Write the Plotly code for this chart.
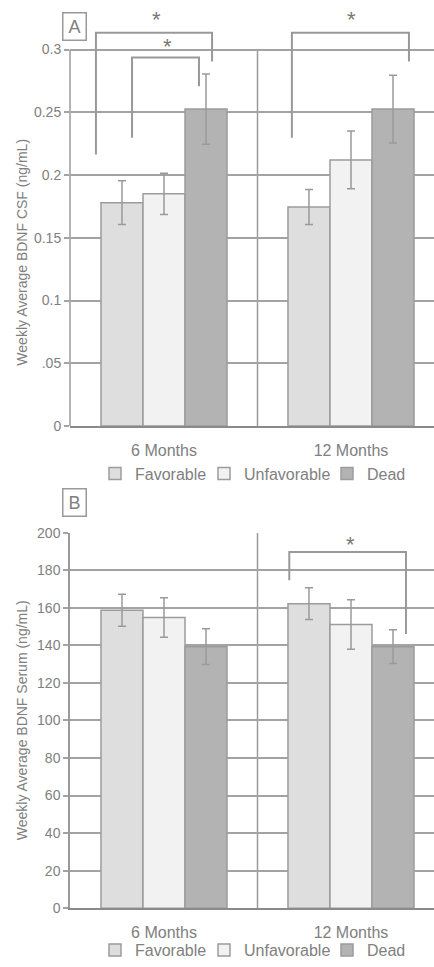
import plotly.graph_objects as go

# ---------------- data ----------------
categories = ["6 Months", "12 Months"]
cat_pos = [0, 1]
groups = ["Favorable", "Unfavorable", "Dead"]
colors = ["#dedede", "#f2f2f2", "#b3b3b3"]

csf_fav = [0.178, 0.1745]
csf_fav_err = [0.0175, 0.014]
csf_unfav = [0.185, 0.212]
csf_unfav_err = [0.0165, 0.023]
csf_dead = [0.2526, 0.2526]
csf_dead_err = [0.028, 0.027]

serum_fav = [158.7, 162.2]
serum_fav_err = [8.5, 8.5]
serum_unfav = [154.8, 151.1]
serum_unfav_err = [10.5, 13.2]
serum_dead = [139.3, 139.3]
serum_dead_err = [9.5, 9.0]

csf_ticks = [0, 0.05, 0.1, 0.15, 0.2, 0.25, 0.3]
csf_ticktext = ["0", ".05", "0.1", "0.15", "0.2", "0.25", "0.3"]
serum_ticks = list(range(0, 201, 20))

# significance brackets: (x_left, x_right, y_top, y_left_bottom, y_right_bottom, star_x, star_y)
csf_brackets = [
    (-0.364, 0.257, 0.3134, 0.2163, 0.2905, -0.04, 0.3276),
    (-0.171, 0.187, 0.2937, 0.2297, 0.2708, 0.021, 0.3065),
    (0.684, 1.31, 0.3134, 0.2297, 0.2905, 1.005, 0.3276),
]
serum_brackets = [
    (0.670, 1.294, 189.7, 174.7, 146.0, 0.995, 196.3),
]

# ---------------- layout constants ----------------
W, H = 434, 967
FONT = "Arial, Liberation Sans, sans-serif"
TXT = "#808080"
GRID = "#a3a3a3"
LINE = "#9a9a9a"


def py(p):
    return 1 - p / H


def px(p):
    return p / W


fig = go.Figure()

csf_series = [(csf_fav, csf_fav_err), (csf_unfav, csf_unfav_err), (csf_dead, csf_dead_err)]
serum_series = [(serum_fav, serum_fav_err), (serum_unfav, serum_unfav_err), (serum_dead, serum_dead_err)]

# one legend per entry so each can be placed where the reference has it
legend_x = [95, 204, 327]
legend_names_a = ["legend", "legend2", "legend3"]
legend_names_b = ["legend4", "legend5", "legend6"]

for i, ((vals, errs), name, col) in enumerate(zip(csf_series, groups, colors)):
    fig.add_trace(go.Bar(
        x=cat_pos, y=vals, name=name, xaxis="x", yaxis="y", legend=legend_names_a[i],
        marker=dict(color=col, line=dict(color="#9c9c9c", width=1.5)),
        error_y=dict(type="data", array=errs, color=LINE, thickness=1.5, width=4),
    ))

for i, ((vals, errs), name, col) in enumerate(zip(serum_series, groups, colors)):
    fig.add_trace(go.Bar(
        x=cat_pos, y=vals, name=name, xaxis="x2", yaxis="y2", legend=legend_names_b[i],
        marker=dict(color=col, line=dict(color="#9c9c9c", width=1.5)),
        error_y=dict(type="data", array=errs, color=LINE, thickness=1.5, width=4),
    ))

xr = [-0.5027, 1.4439]
xdom = [px(70), 1]

xaxis_common = dict(
    range=xr, domain=xdom, tickmode="array", tickvals=cat_pos, ticktext=categories,
    showgrid=False, zeroline=False, showline=True, linecolor="#8a8a8a", linewidth=2,
    ticks="outside", ticklen=9, tickcolor="rgba(0,0,0,0)",
    tickfont=dict(family=FONT, size=16, color=TXT), automargin=False, fixedrange=True,
)

shapes = []
annotations = []

# panel A axis line and divider (only up to 0.3)
shapes.append(dict(type="line", xref="x domain", yref="y", x0=0, x1=0, y0=0, y1=0.3,
                   line=dict(color=LINE, width=1.5), layer="below"))
shapes.append(dict(type="line", xref="x", yref="y", x0=0.5, x1=0.5, y0=0, y1=0.3,
                   line=dict(color=LINE, width=1.5), layer="below"))
shapes.append(dict(type="line", xref="x2", yref="y2", x0=0.5, x1=0.5, y0=0, y1=200,
                   line=dict(color=LINE, width=1.5), layer="below"))


def bracket(xref, yref, b):
    xl, xrr, yt, ylb, yrb, sx, sy = b
    shapes.append(dict(type="path", xref=xref, yref=yref,
                       path=f"M {xl} {ylb} L {xl} {yt} L {xrr} {yt} L {xrr} {yrb}",
                       line=dict(color="#999999", width=2)))
    annotations.append(dict(x=sx, y=sy, xref=xref, yref=yref, text="*", showarrow=False,
                            font=dict(family=FONT, size=22, color="#777777"),
                            xanchor="center", yanchor="middle", yshift=-5))


for b in csf_brackets:
    bracket("x", "y", b)
for b in serum_brackets:
    bracket("x2", "y2", b)

# panel labels
for lab, cy in (("A", 26.5), ("B", 507)):
    annotations.append(dict(x=px(74), y=py(cy), xref="paper", yref="paper", text=lab,
                            showarrow=False, font=dict(family=FONT, size=18, color=TXT),
                            bordercolor="#999999", borderwidth=1.5, width=22, height=26,
                            borderpad=0, xanchor="center", yanchor="middle"))

# y axis titles
for t, cy in (("Weekly Average BDNF CSF (ng/mL)", 255), ("Weekly Average BDNF Serum (ng/mL)", 727)):
    annotations.append(dict(x=px(22), y=py(cy), xref="paper", yref="paper", text=t,
                            showarrow=False, textangle=-90,
                            font=dict(family=FONT, size=14, color=TXT),
                            xanchor="center", yanchor="middle"))

legend_common = dict(orientation="h", xanchor="left", yanchor="middle",
                     font=dict(family=FONT, size=16, color=TXT),
                     bgcolor="rgba(0,0,0,0)", borderwidth=0, traceorder="normal")

legends = {}
for name, lx in zip(legend_names_a, legend_x):
    legends[name] = dict(**legend_common, x=px(lx), y=py(478))
for name, lx in zip(legend_names_b, legend_x):
    legends[name] = dict(**legend_common, x=px(lx), y=py(959))

fig.update_layout(
    width=W, height=H,
    margin=dict(l=0, r=0, t=0, b=0),
    paper_bgcolor="white", plot_bgcolor="white",
    barmode="group", bargap=0.326, bargroupgap=0,
    xaxis=dict(**xaxis_common, anchor="y"),
    xaxis2=dict(**xaxis_common, anchor="y2"),
    yaxis=dict(
        domain=[py(430), 1], range=[0, 0.33947], anchor="x",
        tickmode="array", tickvals=csf_ticks, ticktext=csf_ticktext,
        showgrid=True, gridcolor=GRID, gridwidth=1.5, zeroline=False, showline=False,
        ticks="outside", ticklen=5, tickcolor=GRID, tickwidth=1.5,
        tickfont=dict(family=FONT, size=14, color=TXT), automargin=False, fixedrange=True,
    ),
    yaxis2=dict(
        domain=[py(916.7), py(537.7)], range=[0, 200], anchor="x2",
        tickmode="array", tickvals=serum_ticks,
        showgrid=True, gridcolor=GRID, gridwidth=1.5, zeroline=False,
        showline=True, linecolor=LINE, linewidth=1.5,
        ticks="outside", ticklen=5, tickcolor=GRID, tickwidth=1.5,
        tickfont=dict(family=FONT, size=14, color=TXT), automargin=False, fixedrange=True,
    ),
    shapes=shapes,
    annotations=annotations,
    showlegend=True,
    **legends,
)

post = (
    "document.documentElement.style.margin='0';"
    "document.documentElement.style.overflow='hidden';"
    "document.body.style.margin='0';"
    "document.body.style.overflow='hidden';"
    "var gd=document.getElementById('{plot_id}');"
    "gd.style.position='fixed';gd.style.top='0px';gd.style.left='0px';"
)

fig.write_html(
    "out.html",
    config={"displayModeBar": False, "responsive": False},
    post_script=post,
)
